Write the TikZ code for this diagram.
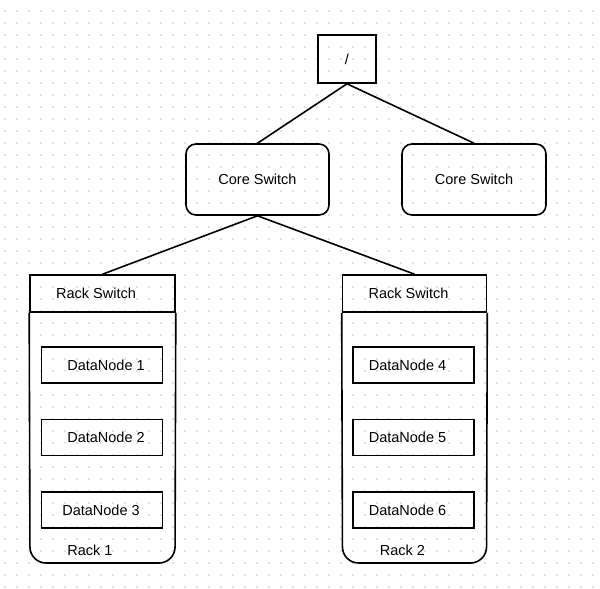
\documentclass[tikz,border=0pt]{standalone}
\usepackage{fontspec}
\setmainfont{Liberation Sans}
\begin{document}
\begin{tikzpicture}[x=1pt,y=-1pt,
  line width=1.6pt,
  box/.style={draw=black,line width=1.6pt,rectangle,inner sep=0pt,font=\fontsize{14.5}{16}\selectfont},
  rbox/.style={box,rounded corners=10pt},
  txt/.style={inner sep=0pt,font=\fontsize{14.5}{16}\selectfont},
  conn/.style={draw=black,line width=1.6pt}]
\definecolor{gridc}{RGB}{195,195,195}
\useasboundingbox (0,0) rectangle (600,589);
\fill[white] (0,0) rectangle (600,589);
\foreach \i in {0,...,49}{
  \foreach \j in {0,...,48}{
    \fill[gridc] ({5+12*\i},{11+12*\j}) circle (0.8pt);
  }
}
% root
\node[box,minimum width=58pt,minimum height=48pt] (root) at (347,59) {/};
% core switches
\node[rbox,minimum width=143pt,minimum height=71pt] (core1) at (257.5,179.5) {Core Switch};
\node[rbox,minimum width=144pt,minimum height=71pt] (core2) at (474,179.5) {Core Switch};
% rack switches
\node[box,minimum width=145pt,minimum height=37pt,label={[txt,xshift=-6.5pt]center:Rack Switch}] (rs1) at (102.5,293.5) {};
\node[box,minimum width=144pt,minimum height=37pt,label={[txt,xshift=-6pt]center:Rack Switch}] (rs2) at (414.5,293.5) {};
% rack bodies
\draw[line width=1.6pt,rounded corners=16pt] (rs1.south west) -- (30,563) -- (175,563) -- (rs1.south east);
\draw[line width=1.6pt,rounded corners=16pt] (rs2.south west) -- (342.5,563) -- (486.5,563) -- (rs2.south east);
% data nodes
\node[box,minimum width=121pt,minimum height=36pt,label={[txt,xshift=4pt]center:DataNode 1}] (dn1) at (102,365) {};
\node[box,minimum width=121pt,minimum height=36pt,label={[txt,xshift=4pt]center:DataNode 2}] (dn2) at (102,437.5) {};
\node[box,minimum width=121pt,minimum height=36pt,label={[txt,xshift=-1pt]center:DataNode 3}] (dn3) at (102,510) {};
\node[box,minimum width=121pt,minimum height=36pt,label={[txt,xshift=-6pt]center:DataNode 4}] (dn4) at (413.5,365) {};
\node[box,minimum width=121pt,minimum height=36pt,label={[txt,xshift=-6pt]center:DataNode 5}] (dn5) at (413.5,437.5) {};
\node[box,minimum width=121pt,minimum height=36pt,label={[txt,xshift=-6pt]center:DataNode 6}] (dn6) at (413.5,510) {};
% rack labels
\node[txt] (r1) at (90,550) {Rack 1};
\node[txt] (r2) at (402.5,550) {Rack 2};
% connectors
\draw[conn] (root.south) -- (core1.north);
\draw[conn] (root.south) -- (core2.north);
\draw[conn] (core1.south) -- (rs1.north);
\draw[conn] (core1.south) -- (rs2.north);
\end{tikzpicture}
\end{document}
